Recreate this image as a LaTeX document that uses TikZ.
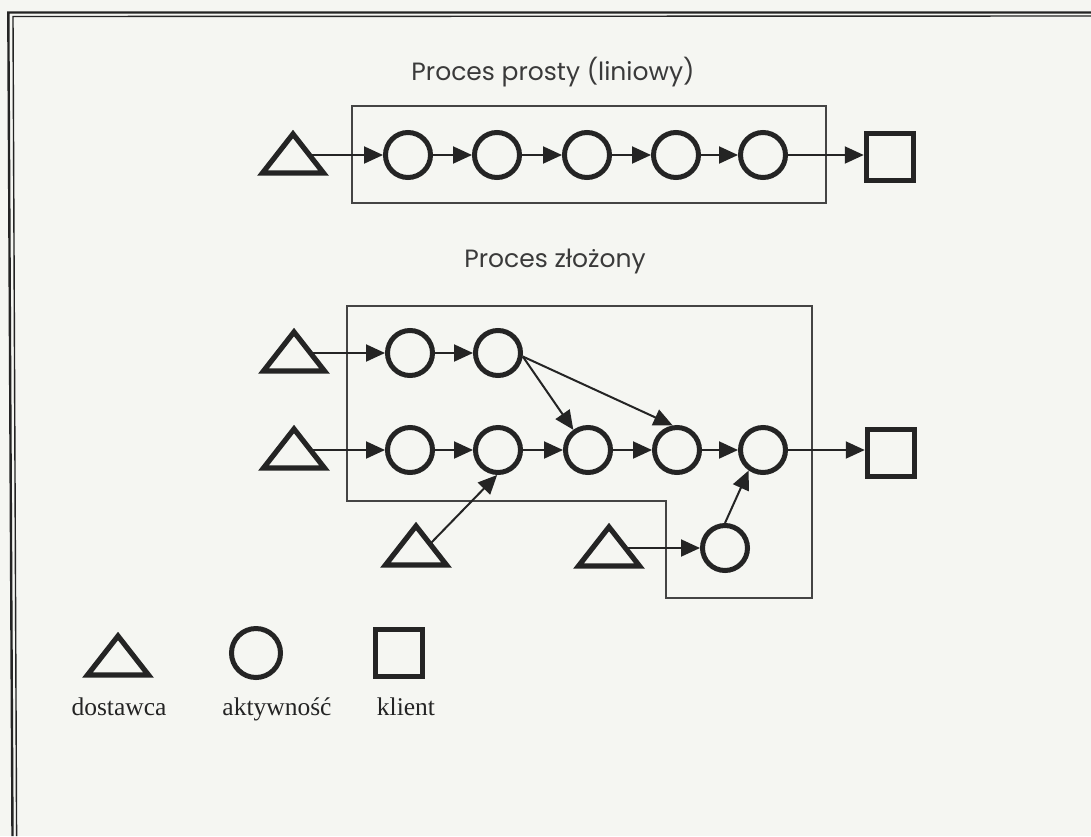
\documentclass[tikz,border=0pt]{standalone}
\usepackage{fontspec}
\setmainfont{Liberation Serif}
\newfontfamily\titlefont{Poppins}
\usetikzlibrary{arrows.meta,calc}
\definecolor{paper}{RGB}{245,246,242}
\definecolor{ink}{RGB}{36,36,36}
\definecolor{boxline}{RGB}{68,68,68}
\newcommand\suppliershape[1]{\draw[draw=ink,line width=5.2pt,fill=paper,line join=miter]
  ($(#1)+(0,-21)$) -- ($(#1)+(30.5,18)$) -- ($(#1)+(-30.5,18)$) -- cycle;}
\begin{document}
\begin{tikzpicture}[x=1pt,y=-1pt,
  act/.style={circle,draw=ink,line width=5pt,minimum size=45pt,inner sep=0pt,fill=paper},
  cli/.style={rectangle,draw=ink,line width=5.5pt,minimum size=47pt,inner sep=0pt,fill=paper},
  supnode/.style={inner sep=0pt,minimum size=0pt,outer sep=0pt},
  conn/.style={draw=ink,line width=2pt,-{Triangle[length=19pt,width=17pt]}},
  procbox/.style={draw=boxline,line width=2pt},
  ttl/.style={font=\titlefont\fontsize{25}{30}\selectfont,text=ink!90,anchor=base},
  lbl/.style={font=\fontsize{25.5}{30}\selectfont,text=ink,anchor=base}]
\fill[paper] (0,0) rectangle (1091,836);
\useasboundingbox (0,0) rectangle (1091,836);
% page frame
\draw[ink,line width=2.4pt] (12.5,836) -- (8.3,12.5) -- (1091,12.5);
\draw[ink,line width=1.4pt] (16.6,836) -- (13,16.5) -- (1091,16);
% titles
\node[ttl] (t1) at (553,80) {Proces prosty (liniowy)};
\node[ttl] (t2) at (555,267) {Proces złożony};
% process boxes
\draw[procbox] (352,106) rectangle (826,203);
\draw[procbox] (347,306) -- (812,306) -- (812,598) -- (666,598) -- (666,501) -- (347,501) -- cycle;
% simple process
\node[supnode] (s0) at (293,155) {};
\node[act] (p1) at (408,155) {};
\node[act] (p2) at (497,155) {};
\node[act] (p3) at (587,155) {};
\node[act] (p4) at (676,155) {};
\node[act] (p5) at (763,155) {};
\node[cli] (k0) at (890,157) {};
% complex process
\node[supnode] (sa) at (294,353) {};
\node[supnode] (sb) at (294,450) {};
\node[supnode] (sc) at (416,547) {};
\node[supnode] (sd) at (609,548) {};
\node[act] (a1) at (410,353) {};
\node[act] (a2) at (498,353) {};
\node[act] (b1) at (410,450) {};
\node[act] (b2) at (498,450) {};
\node[act] (b3) at (588,450) {};
\node[act] (b4) at (677,450) {};
\node[act] (b5) at (763,450) {};
\node[act] (m6) at (725,548) {};
\node[cli] (k1) at (891,453) {};
\coordinate (sco) at ($(sc)+(14,-3)$);
% connectors
\draw[conn] (s0) -- (p1);
\draw[conn] (p1) -- (p2);
\draw[conn] (p2) -- (p3);
\draw[conn] (p3) -- (p4);
\draw[conn] (p4) -- (p5);
\draw[conn] (p5) -- (p5 -| k0.west);
\draw[conn] (sa) -- (a1);
\draw[conn] (a1) -- (a2);
\draw[conn] (a2.-8) -- (b3.126);
\draw[conn] (a2.-8) -- (b4.100);
\draw[conn] (sb) -- (b1);
\draw[conn] (b1) -- (b2);
\draw[conn] (b2) -- (b3);
\draw[conn] (b3) -- (b4);
\draw[conn] (b4) -- (b5);
\draw[conn] (b5) -- (b5 -| k1.west);
\draw[conn] (sco) -- (b2.-92);
\draw[conn] (sd) -- (m6);
\draw[conn] (m6.north) -- (b5.235);
% suppliers
\suppliershape{s0}
\suppliershape{sa}
\suppliershape{sb}
\suppliershape{sc}
\suppliershape{sd}
% legend
\node[supnode] (ls) at (118,657) {};
\suppliershape{ls}
\node[act,minimum size=49pt] (la) at (256,653) {};
\node[cli] (lk) at (399,653) {};
\node[lbl] (ld) at (119,715) {dostawca};
\node[lbl] (lda) at (277,715) {aktywność};
\node[lbl] (ldk) at (406,715) {klient};
\end{tikzpicture}
\end{document}
